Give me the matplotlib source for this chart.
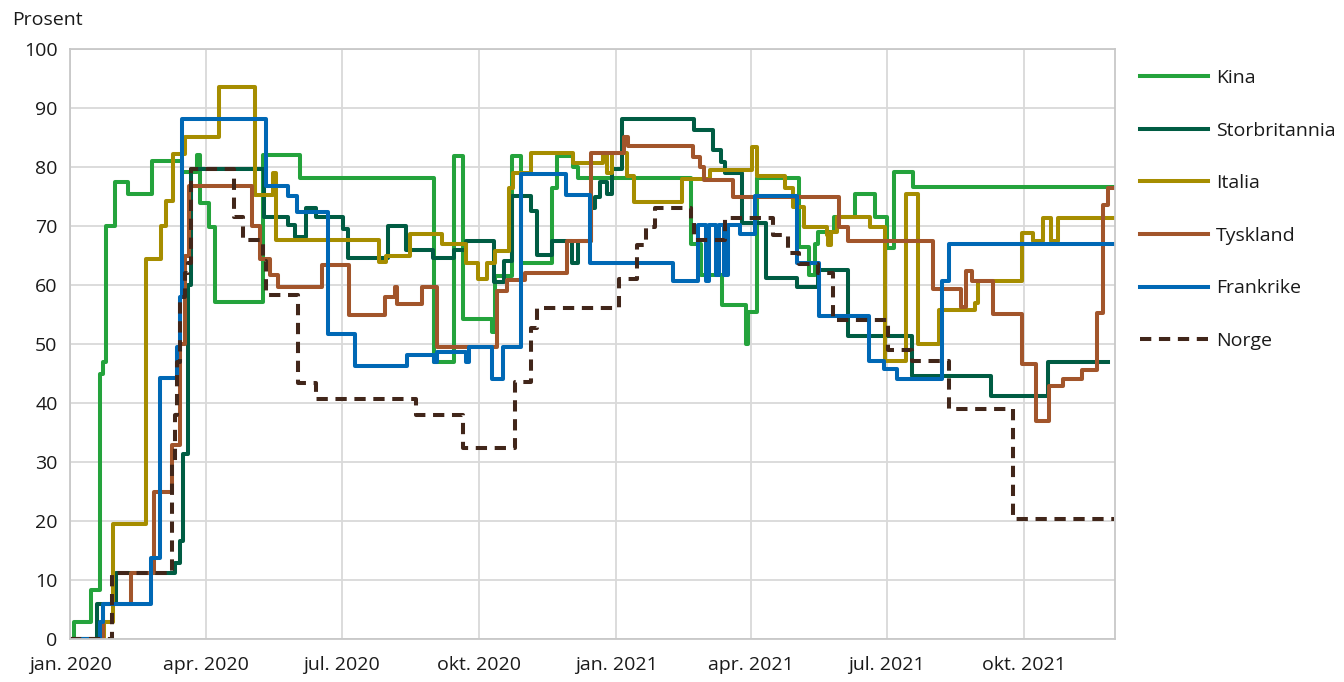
import pandas as pd
import matplotlib
matplotlib.use("Agg")
import matplotlib.pyplot as plt

plt.rcParams['font.family'] = ['Open Sans', 'DejaVu Sans']

# change points (date, value) for each country, step series
kina_dates = ['2020-01-01', '2020-01-04', '2020-01-15', '2020-01-21', '2020-01-23', '2020-01-25',
              '2020-01-31', '2020-02-09', '2020-02-25', '2020-03-16', '2020-03-26', '2020-03-28',
              '2020-04-03', '2020-04-07', '2020-05-09', '2020-06-03', '2020-09-01', '2020-09-14',
              '2020-09-20', '2020-10-10', '2020-10-12', '2020-10-23', '2020-10-29', '2020-11-19',
              '2020-11-22', '2020-12-03', '2020-12-06', '2021-02-20', '2021-02-27', '2021-03-13',
              '2021-03-29', '2021-03-30', '2021-04-05', '2021-05-03', '2021-05-10', '2021-05-14',
              '2021-05-16', '2021-05-27', '2021-06-10', '2021-06-23', '2021-07-01', '2021-07-06',
              '2021-07-19', '2021-11-30']
kina_vals = [0, 2.8, 8.3, 45, 47, 70, 77.5, 75.4, 81, 79.2, 82, 73.9, 69.9, 57.2, 82, 78.2,
             46.9, 81.9, 54.3, 52, 61.6, 81.9, 63.7, 76.4, 81.9, 80, 78.2, 67, 61.7, 56.6,
             50, 55.5, 78.2, 66.5, 61.7, 67, 69, 71.6, 75.4, 71.6, 66.2, 79.2, 76.6, 76.6]

uk_dates = ['2020-01-01', '2020-01-19', '2020-02-01', '2020-03-11', '2020-03-15', '2020-03-17',
            '2020-03-20', '2020-03-22', '2020-05-10', '2020-05-26', '2020-05-31', '2020-06-07',
            '2020-06-14', '2020-07-02', '2020-07-05', '2020-08-01', '2020-08-13', '2020-08-31',
            '2020-09-14', '2020-09-22', '2020-10-11', '2020-10-18', '2020-10-23', '2020-11-05',
            '2020-11-09', '2020-11-19', '2020-12-02', '2020-12-06', '2020-12-15', '2020-12-18',
            '2020-12-21', '2020-12-26', '2020-12-29', '2021-01-05', '2021-02-22', '2021-03-07',
            '2021-03-12', '2021-03-15', '2021-03-26', '2021-04-11', '2021-05-02', '2021-05-16',
            '2021-06-05', '2021-07-18', '2021-09-09', '2021-10-17', '2021-11-26']
uk_vals = [0, 5.85, 11.25, 12.8, 16.6, 31.4, 60, 79.6, 71.6, 70.2, 68.2, 73, 71.6, 69.5, 64.6,
           70, 66, 64.6, 65.9, 67.4, 60.5, 64, 75.1, 72.5, 65.1, 67.5, 63.7, 67.5, 73, 75,
           77.5, 75.4, 79.6, 88.2, 86.3, 82.9, 80.9, 78.9, 70.5, 61.2, 59.7, 62.5, 51.4, 44.5,
           41.2, 46.9, 46.9]

italia_dates = ['2020-01-01', '2020-01-24', '2020-01-30', '2020-02-21', '2020-03-02', '2020-03-05',
                '2020-03-10', '2020-03-18', '2020-04-10', '2020-05-04', '2020-05-16', '2020-05-18',
                '2020-07-26', '2020-07-31', '2020-08-16', '2020-09-06', '2020-09-22', '2020-09-30',
                '2020-10-06', '2020-10-12', '2020-10-21', '2020-10-24', '2020-11-05', '2020-12-03',
                '2020-12-23', '2020-12-26', '2020-12-29', '2021-01-08', '2021-01-13', '2021-02-14',
                '2021-03-05', '2021-04-02', '2021-04-05', '2021-04-24', '2021-04-29', '2021-05-07',
                '2021-05-22', '2021-05-23', '2021-05-25', '2021-05-29', '2021-06-20', '2021-06-30',
                '2021-07-14', '2021-07-22', '2021-08-05', '2021-08-29', '2021-08-31', '2021-09-30',
                '2021-10-07', '2021-10-14', '2021-10-19', '2021-10-24', '2021-11-30']
italia_vals = [0, 2.8, 19.5, 64.4, 70, 74.3, 82.2, 85.1, 93.6, 75.3, 78.9, 67.6, 63.9, 64.9,
               68.6, 66.9, 63.7, 61, 63.8, 65.8, 76.4, 78.9, 82.4, 80.7, 82.4, 78.9, 82.4, 78.4,
               74.1, 77.9, 79.5, 83.4, 78.4, 76.4, 73.2, 69.9, 68.5, 66.8, 69, 71.6, 69.9, 47.1,
               75.4, 50, 55.7, 57, 60.6, 68.8, 67.5, 71.3, 67.5, 71.3, 71.3]

tyskland_dates = ['2020-01-01', '2020-01-23', '2020-02-11', '2020-02-26', '2020-03-09', '2020-03-15',
                  '2020-03-18', '2020-03-21', '2020-05-02', '2020-05-07', '2020-05-14', '2020-05-19',
                  '2020-06-18', '2020-07-06', '2020-07-30', '2020-08-06', '2020-08-07', '2020-08-24',
                  '2020-09-03', '2020-10-13', '2020-10-20', '2020-11-01', '2020-11-29', '2020-12-15',
                  '2021-01-06', '2021-01-09', '2021-02-21', '2021-02-26', '2021-03-01', '2021-03-20',
                  '2021-05-30', '2021-06-05', '2021-08-01', '2021-08-20', '2021-08-23', '2021-08-27',
                  '2021-09-10', '2021-09-30', '2021-10-09', '2021-10-18', '2021-10-27', '2021-11-09',
                  '2021-11-19', '2021-11-23', '2021-11-26', '2021-11-30']
tyskland_vals = [0, 5.85, 11.25, 25, 32.8, 50, 65, 76.8, 70, 64.4, 61.7, 59.6, 63.4, 55, 58,
                 59.6, 56.8, 59.6, 49.5, 58.9, 60.8, 62.1, 67.5, 82.4, 85.1, 83.5, 81.7, 80,
                 77.8, 75, 69.9, 67.5, 59.3, 56.3, 62.3, 60.7, 55.1, 46.6, 36.9, 42.8, 44.1,
                 45.6, 55.2, 73.5, 76.4, 76.4]

frankrike_dates = ['2020-01-01', '2020-01-21', '2020-01-23', '2020-02-24', '2020-03-01', '2020-03-13',
                   '2020-03-15', '2020-03-16', '2020-05-11', '2020-05-26', '2020-06-01', '2020-06-22',
                   '2020-07-10', '2020-08-14', '2020-09-01', '2020-09-03', '2020-09-22', '2020-09-24',
                   '2020-10-10', '2020-10-17', '2020-10-29', '2020-11-28', '2020-12-14', '2021-02-08',
                   '2021-02-25', '2021-03-02', '2021-03-04', '2021-03-09', '2021-03-11', '2021-03-14',
                   '2021-03-17', '2021-03-25', '2021-04-04', '2021-05-02', '2021-05-17', '2021-06-19',
                   '2021-06-29', '2021-07-08', '2021-08-07', '2021-08-12', '2021-11-30']
frankrike_vals = [0, 2.8, 5.85, 13.8, 44.3, 49.5, 58, 88.1, 76.8, 75.1, 72.4, 51.7, 46.2, 48.2,
                  46.9, 48.7, 47, 49.5, 44.1, 49.5, 78.8, 75.3, 63.8, 60.6, 70.2, 60.6, 70.2,
                  61.7, 70.2, 61.7, 70.2, 68.6, 75.1, 63.8, 54.7, 47.1, 45.8, 44.1, 60.7, 66.9, 66.9]

norge_dates = ['2020-01-01', '2020-01-29', '2020-03-09', '2020-03-11', '2020-03-13', '2020-03-15',
               '2020-03-18', '2020-03-20', '2020-03-22', '2020-04-20', '2020-04-26', '2020-05-09',
               '2020-05-11', '2020-06-02', '2020-06-14', '2020-08-20', '2020-09-20', '2020-10-25',
               '2020-11-05', '2020-11-09', '2021-01-03', '2021-01-15', '2021-01-21', '2021-01-27',
               '2021-02-20', '2021-02-22', '2021-03-15', '2021-04-16', '2021-04-26', '2021-05-03',
               '2021-05-16', '2021-05-26', '2021-07-02', '2021-07-18', '2021-08-12', '2021-09-24',
               '2021-11-30']
norge_vals = [0, 11.25, 30, 38, 47, 58, 62, 63.7, 79.6, 71.6, 67.6, 64, 58.3, 43.4, 40.7, 37.9,
              32.4, 43.5, 52.7, 56.1, 61, 66.8, 69.9, 73, 71, 67.6, 71.3, 68.5, 65.5, 63.6, 62,
              54, 48.9, 47.1, 39, 20.3, 20.3]

tick_dates = ['2020-01-01', '2020-04-01', '2020-07-01', '2020-10-01',
              '2021-01-01', '2021-04-01', '2021-07-01', '2021-10-01']
tick_labels = ['jan. 2020', 'apr. 2020', 'jul. 2020', 'okt. 2020',
               'jan. 2021', 'apr. 2021', 'jul. 2021', 'okt. 2021']

series = [
    ('Kina', kina_dates, kina_vals, '#24a33c', '-'),
    ('Storbritannia', uk_dates, uk_vals, '#005c43', '-'),
    ('Italia', italia_dates, italia_vals, '#a68d00', '-'),
    ('Tyskland', tyskland_dates, tyskland_vals, '#a2552b', '-'),
    ('Frankrike', frankrike_dates, frankrike_vals, '#0068b5', '-'),
    ('Norge', norge_dates, norge_vals, '#41261a', '--'),
]

fig = plt.figure(figsize=(13.44, 6.82), dpi=100)
ax = fig.add_axes([70 / 1344, 1 - 639 / 682, (1115 - 70) / 1344, (639 - 49) / 682])

for name, d, v, col, ls in series:
    line, = ax.plot(pd.to_datetime(d), v, drawstyle='steps-post', color=col, lw=2.9,
                    label=name, linestyle=ls)
    if ls == '--':
        line.set_dashes((2.8, 1.9))

ax.set_xlim(pd.Timestamp('2020-01-01'), pd.Timestamp('2021-12-01'))
ax.set_ylim(0, 100)
ax.set_yticks(range(0, 101, 10))
ax.set_xticks(pd.to_datetime(tick_dates))
ax.set_xticklabels(tick_labels)
ax.tick_params(axis='both', length=0, labelsize=14, colors='#1a1a1a')
ax.tick_params(axis='x', pad=12)
ax.tick_params(axis='y', pad=9)
ax.grid(True, color='#d9d9d9', lw=1.3)
ax.set_axisbelow(True)
for s in ax.spines.values():
    s.set_color('#c8c8c8')
    s.set_linewidth(1.3)

fig.text(12 / 1344, 1 - 20 / 682, 'Prosent', fontsize=14, color='#1a1a1a', va='center', ha='left')

fig.legend(loc='upper left', bbox_to_anchor=(1140 / 1344, 1 - 69 / 682), frameon=False,
           fontsize=14, handlelength=3.5, handletextpad=0.4, labelspacing=1.78,
           borderpad=0, borderaxespad=0, labelcolor='#1a1a1a')

fig.savefig('out.png', dpi=100)
